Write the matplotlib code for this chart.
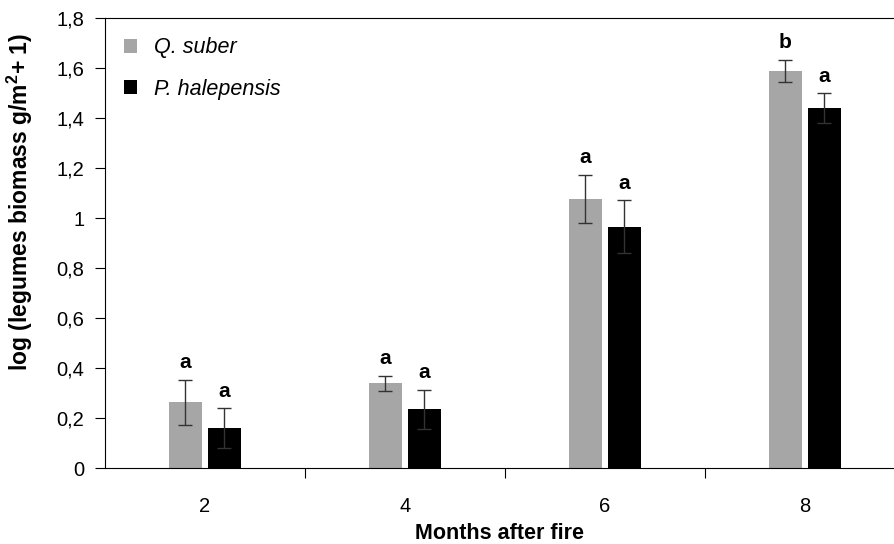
import matplotlib
matplotlib.use('Agg')
import matplotlib.pyplot as plt
import numpy as np
from matplotlib.ticker import FuncFormatter

plt.rcParams['font.family'] = ['Liberation Sans', 'DejaVu Sans']
plt.rcParams['mathtext.fontset'] = 'custom'
plt.rcParams['mathtext.rm'] = 'Liberation Sans'
plt.rcParams['mathtext.bf'] = 'Liberation Sans:bold'

# data
months = ['2', '4', '6', '8']
suber = [0.264, 0.340, 1.076, 1.588]
suber_err = [0.090, 0.030, 0.097, 0.045]
halep = [0.160, 0.236, 0.966, 1.440]
halep_err = [0.080, 0.078, 0.106, 0.060]
suber_letters = ['a', 'a', 'a', 'b']
halep_letters = ['a', 'a', 'a', 'a']

fig = plt.figure(figsize=(8.95, 5.44), dpi=100)
ax = fig.add_axes([0.1173, 0.1397, 0.8827, 0.8272])

x = np.arange(len(months))
w = 0.165
off = 0.0975
ekw = dict(ecolor='#333333', elinewidth=1.0, capsize=5, capthick=1.0)

ax.bar(x - off, suber, w, color='#a6a6a6', yerr=suber_err, error_kw=ekw, label='Q. suber')
ax.bar(x + off, halep, w, color='black', yerr=halep_err, error_kw=ekw, label='P. halepensis')

# significance letters above the error bars
for i in range(len(months)):
    ax.text(x[i] - off, suber[i] + suber_err[i] + 0.03, suber_letters[i],
            ha='center', va='bottom', fontsize=15, fontweight='bold')
    ax.text(x[i] + off, halep[i] + halep_err[i] + 0.03, halep_letters[i],
            ha='center', va='bottom', fontsize=15, fontweight='bold')

ax.set_xlim(-0.5, 3.45)
ax.set_ylim(0, 1.8)
ax.set_yticks(np.arange(0, 1.81, 0.2))
ax.yaxis.set_major_formatter(FuncFormatter(
    lambda v, p: '0' if abs(v) < 1e-9 else ('1' if abs(v - 1) < 1e-9 else f'{v:.1f}'.replace('.', ','))))
ax.set_xticks(x)
ax.set_xticklabels(months)
ax.set_xticks([0.5, 1.5, 2.5], minor=True)
ax.tick_params(axis='x', which='major', length=0, pad=21, labelsize=14.5)
ax.tick_params(axis='x', which='minor', length=7, direction='out', width=0.8)
ax.tick_params(axis='y', length=7, direction='out', labelsize=14.5, width=0.8, pad=8)

for s in ['left', 'bottom', 'top']:
    ax.spines[s].set_linewidth(0.8)
ax.spines['right'].set_visible(False)

ax.set_xlabel('Months after fire', fontsize=15.5, fontweight='bold', labelpad=5)
ax.set_ylabel(r'log (legumes biomass g/m$\mathbf{^2}$+ 1)', fontsize=16.5, fontweight='bold')
ax.yaxis.set_label_coords(-0.089, 0.59)

leg = ax.legend(loc='upper left', bbox_to_anchor=(0.0, 1.0), frameon=False,
                handlelength=0.6, handleheight=0.6, handletextpad=0.8, labelspacing=0.95,
                borderaxespad=0.5, prop={'style': 'italic', 'size': 15.5})

fig.savefig('out.png', dpi=100)
